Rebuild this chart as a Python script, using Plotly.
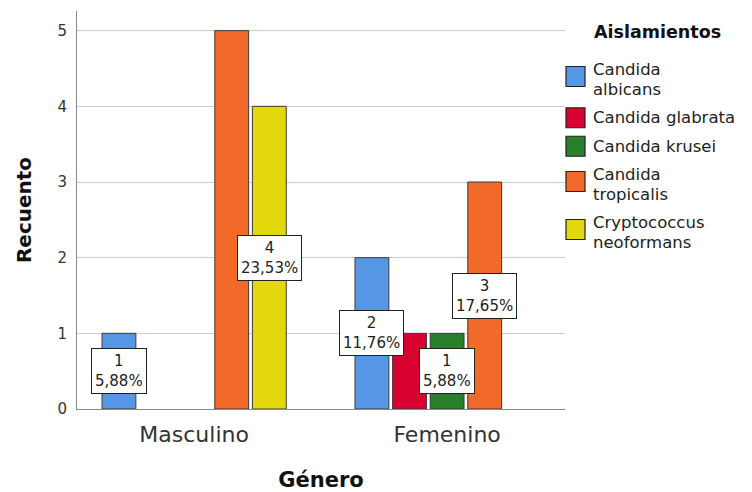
import plotly.graph_objects as go

# Counts of isolates by gender and species
generos = ["Masculino", "Femenino"]
aislamientos = [
    "Candida<br>albicans",
    "Candida glabrata",
    "Candida krusei",
    "Candida<br>tropicalis",
    "Cryptococcus<br>neoformans",
]
conteos = [
    [1, 2],  # Candida albicans
    [0, 1],  # Candida glabrata
    [0, 1],  # Candida krusei
    [5, 3],  # Candida tropicalis
    [4, 0],  # Cryptococcus neoformans
]
colores = ["#5597E4", "#D8012F", "#2A7F2C", "#F2692A", "#E3D80C"]

# Bars that carry a count/percentage label: (species index, gender index)
etiquetas = [(0, 0), (4, 0), (0, 1), (2, 1), (3, 1)]

FONT = "DejaVu Sans, Verdana, sans-serif"
W, H = 752, 492
ML, MR, MT, MB = 77, 187, 11, 83
PW, PH = W - ML - MR, H - MT - MB

total = sum(sum(c) for c in conteos)
bargap = 0.257
n_series = len(aislamientos)
slot = (1 - bargap) / n_series

fig = go.Figure()
for nombre, valores, color in zip(aislamientos, conteos, colores):
    fig.add_trace(go.Bar(
        name=nombre.replace("<br>", " "),
        x=list(range(len(generos))),
        y=[v if v > 0 else None for v in valores],
        marker=dict(color=color, line=dict(color="#3a3a3a", width=1)),
        showlegend=False,
    ))

# Boxed count / percentage labels at the middle of the bars
for s, g in etiquetas:
    v = conteos[s][g]
    pct = f"{100 * v / total:.2f}".replace(".", ",")
    fig.add_annotation(
        x=g + (s - (n_series - 1) / 2) * slot,
        y=v / 2,
        xref="x", yref="y",
        text=f"{v}<br>{pct}%",
        showarrow=False,
        bgcolor="white",
        bordercolor="#222222",
        borderwidth=1,
        borderpad=3,
        font=dict(family=FONT, size=15, color="#222222"),
    )


# Legend drawn in pixel units converted to paper coordinates
def px(xp):
    return (xp - ML) / PW


def py(yp):
    return (H - MB - yp) / PH


fig.add_annotation(
    x=px(592), y=py(32), xref="paper", yref="paper",
    xanchor="left", yanchor="middle", showarrow=False,
    text="<b>Aislamientos</b>",
    font=dict(family=FONT, size=17.5, color="#111111"),
)

line_h, gap, top = 19.5, 9, 60
for nombre, color in zip(aislamientos, colores):
    lineas = nombre.split("<br>")
    centro = top + len(lineas) * line_h / 2
    sc = centro - (3 if len(lineas) > 1 else 0)
    fig.add_shape(
        type="rect", xref="paper", yref="paper",
        x0=px(566), x1=px(585), y0=py(sc - 10), y1=py(sc + 10),
        fillcolor=color, line=dict(color="#222222", width=1.2),
    )
    for k, linea in enumerate(lineas):
        fig.add_annotation(
            x=px(591), y=py(top + (k + 0.5) * line_h),
            xref="paper", yref="paper",
            xanchor="left", yanchor="middle", showarrow=False,
            text=linea,
            font=dict(family=FONT, size=16.5, color="#222222"),
        )
    top += len(lineas) * line_h + gap

fig.update_layout(
    width=W, height=H,
    margin=dict(l=ML, r=MR, t=MT, b=MB, autoexpand=False),
    paper_bgcolor="white", plot_bgcolor="white",
    font=dict(family=FONT, color="#333333"),
    barmode="group",
    bargap=bargap,
    bargroupgap=0.1,
    showlegend=False,
    xaxis=dict(
        range=[-0.463, 1.466],
        tickmode="array", tickvals=[0, 1], ticktext=generos,
        tickfont=dict(family=FONT, size=22, color="#333333"),
        ticklabelstandoff=6,
        automargin=False,
        showline=True, linecolor="#888888", linewidth=1,
        showgrid=False, ticks="",
        title=dict(text="<b>Género</b>", font=dict(family=FONT, size=21, color="#111111"), standoff=29),
    ),
    yaxis=dict(
        range=[0, 5.26],
        tickmode="array", tickvals=[0, 1, 2, 3, 4, 5],
        tickfont=dict(family=FONT, size=15, color="#333333"),
        ticklabelstandoff=6,
        automargin=False,
        showline=True, linecolor="#888888", linewidth=1,
        showgrid=True, gridcolor="#cccccc", gridwidth=1,
        zeroline=False, ticks="",
        title=dict(text="<b>Recuento</b>", font=dict(family=FONT, size=20, color="#111111"), standoff=20),
    ),
)

fig.write_html("out.html")
